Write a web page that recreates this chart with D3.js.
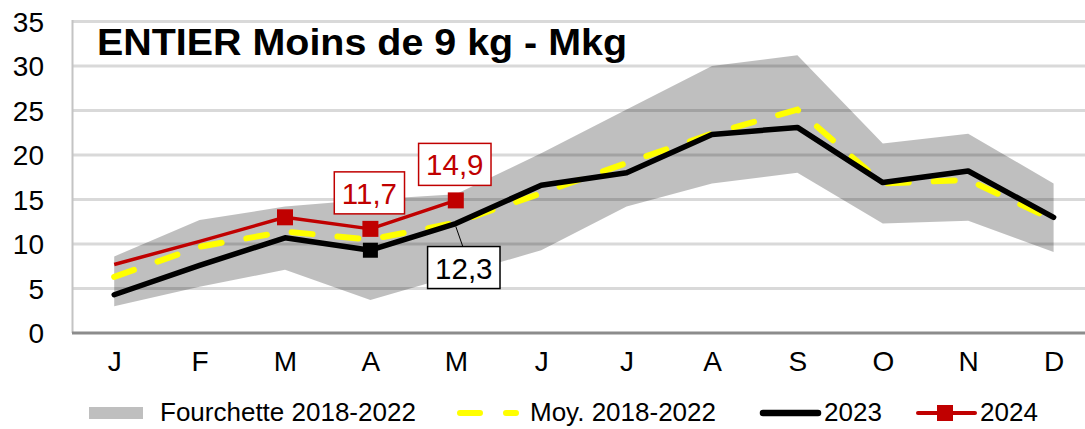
<!DOCTYPE html>
<html><head><meta charset="utf-8">
<script src="https://cdn.jsdelivr.net/npm/d3@7"></script>
<style>
html,body{margin:0;padding:0;background:#fff;}
svg{display:block;font-family:"Liberation Sans",Arial,sans-serif;}
</style></head>
<body>
<svg id="chart" width="1085" height="429"></svg>
<script>
// ---------- DATA ----------
const months = ["J","F","M","A","M","J","J","A","S","O","N","D"];
const yTicks = [0,5,10,15,20,25,30,35];
const rangeLow  = [3.0, 5.2, 7.1, 3.7, 6.5, 9.3, 14.2, 16.8, 18.0, 12.3, 12.6, 9.1];
const rangeHigh = [8.6, 12.7, 14.2, 15.0, 15.6, 20.2, 25.1, 30.0, 31.2, 21.3, 22.4, 16.8];
const avg1822   = [6.3, 9.7, 11.4, 10.5, 12.4, 15.7, 19.1, 22.4, 25.1, 16.8, 17.2, 12.7];
const s2023     = [4.3, 7.6, 10.7, 9.3, 12.3, 16.6, 18.0, 22.3, 23.1, 16.9, 18.2, 13.0];
const s2024     = [7.7, 10.3, 13.0, 11.7, 14.9];
const markers2023 = [3];          // indices with a square marker
const markers2024 = [2, 3, 4];
const labels2024 = [3, 4];        // indices with a value label
const labels2023 = [4];
const title = "ENTIER Moins de 9 kg - Mkg";
const legendNames = ["Fourchette 2018-2022", "Moy. 2018-2022", "2023", "2024"];

// ---------- SETUP ----------
const svg = d3.select("#chart");
const RED = "#c00000", YEL = "#ffff00", BAND = "rgba(0,0,0,0.25)";
const fmt = v => String(v.toFixed(1)).replace(".", ",");

const x = d3.scalePoint().domain(d3.range(months.length)).range([71.5, 1096.3]).padding(0.5);
const y = d3.scaleLinear().domain([0, 35]).range([333, 21.5]);

// gridlines
svg.append("g").selectAll("line").data(yTicks.filter(t => t > 0)).join("line")
  .attr("x1", 73).attr("x2", 1085)
  .attr("y1", d => y(d)).attr("y2", d => y(d))
  .attr("stroke", "#d9d9d9").attr("stroke-width", 3);

// left axis line
svg.append("line").attr("x1", 72.5).attr("x2", 72.5).attr("y1", y(35) - 1.5).attr("y2", y(0))
  .attr("stroke", "#c4c4c4").attr("stroke-width", 2);

// y tick labels
const yAxis = d3.axisLeft(y).tickValues(yTicks).tickSize(0).tickPadding(0);
const gy = svg.append("g").attr("transform", "translate(44,0)").call(yAxis);
gy.select(".domain").remove();
gy.selectAll("text").attr("font-size", 28).attr("fill", "#000")
  .attr("font-family", "'Liberation Sans',Arial,sans-serif").attr("dy", "0.35em");

// x tick labels
const xAxis = d3.axisBottom(x).tickFormat(i => months[i]).tickSize(0).tickPadding(0);
const gx = svg.append("g").attr("transform", "translate(0,351)").call(xAxis);
gx.select(".domain").remove();
gx.selectAll("text").attr("font-size", 28).attr("fill", "#000")
  .attr("font-family", "'Liberation Sans',Arial,sans-serif").attr("dy", "0.71em");

// band
const area = d3.area().x((d, i) => x(i)).y0((d, i) => y(rangeLow[i])).y1(d => y(d));
svg.append("path").datum(rangeHigh).attr("d", area).attr("fill", BAND);

// bottom axis line
svg.append("line").attr("x1", 72).attr("x2", 1085).attr("y1", y(0)).attr("y2", y(0))
  .attr("stroke", "#8c8c8c").attr("stroke-width", 3);

const line = d3.line().x((d, i) => x(i)).y(d => y(d));

// average dashed
svg.append("path").datum(avg1822).attr("d", line).attr("fill", "none")
  .attr("stroke", YEL).attr("stroke-width", 6).attr("stroke-dasharray", "21 25")
  .attr("stroke-linecap", "round");

// 2023
svg.append("path").datum(s2023).attr("d", line).attr("fill", "none")
  .attr("stroke", "#000").attr("stroke-width", 5.5)
  .attr("stroke-linejoin", "round").attr("stroke-linecap", "round");

// 2024
svg.append("path").datum(s2024).attr("d", line).attr("fill", "none")
  .attr("stroke", RED).attr("stroke-width", 3.5).attr("stroke-linejoin", "round");

// markers
svg.append("g").selectAll("rect").data(markers2023).join("rect")
  .attr("x", i => x(i) - 7.5).attr("y", i => y(s2023[i]) - 7.5)
  .attr("width", 15).attr("height", 15).attr("fill", "#000");
svg.append("g").selectAll("rect").data(markers2024).join("rect")
  .attr("x", i => x(i) - 8).attr("y", i => y(s2024[i]) - 8)
  .attr("width", 16).attr("height", 16).attr("fill", RED);

// value labels
function boxLabel(cx, cy, text, color) {
  const g = svg.append("g");
  const r = g.append("rect");
  const t = g.append("text").attr("x", cx).attr("y", cy + 11).attr("text-anchor", "middle")
    .attr("font-size", 29.5).attr("fill", color).text(text);
  const w = t.node().getComputedTextLength() + 15;
  const h = 42;
  r.attr("x", cx - w / 2).attr("y", cy - h / 2).attr("width", w).attr("height", h)
    .attr("fill", "#fff").attr("stroke", color).attr("stroke-width", 1.5);
}
labels2023.forEach(i => {
  const px = x(i), py = y(s2023[i]);
  svg.append("line").attr("x1", px).attr("y1", py + 3).attr("x2", px + 7).attr("y2", py + 23)
    .attr("stroke", "#000").attr("stroke-width", 1);
  boxLabel(px + 8, py + 44, fmt(s2023[i]), "#000");
});
labels2024.forEach(i => {
  boxLabel(x(i) - 1, y(s2024[i]) - 36, fmt(s2024[i]), RED);
});

// title
svg.append("text").attr("x", 97).attr("y", 55).attr("font-size", 37).attr("font-weight", "bold")
  .attr("textLength", 530).attr("lengthAdjust", "spacingAndGlyphs").attr("fill", "#000").text(title);

// legend
const lg = svg.append("g").attr("font-size", 26).attr("fill", "#000");
const ly = 413, lbase = 421;
lg.append("rect").attr("x", 89).attr("y", 407).attr("width", 54).attr("height", 12).attr("fill", "#bfbfbf");
lg.append("text").attr("x", 160).attr("y", lbase).text(legendNames[0]);
lg.append("line").attr("x1", 460).attr("x2", 516).attr("y1", ly).attr("y2", ly)
  .attr("stroke", YEL).attr("stroke-width", 6).attr("stroke-dasharray", "20 26").attr("stroke-linecap", "round");
lg.append("text").attr("x", 530).attr("y", lbase).text(legendNames[1]);
lg.append("line").attr("x1", 763).attr("x2", 818).attr("y1", ly).attr("y2", ly)
  .attr("stroke", "#000").attr("stroke-width", 6.5).attr("stroke-linecap", "round");
lg.append("text").attr("x", 824).attr("y", lbase).text(legendNames[2]);
lg.append("line").attr("x1", 918).attr("x2", 975).attr("y1", ly).attr("y2", ly)
  .attr("stroke", RED).attr("stroke-width", 4).attr("stroke-linecap", "round");
lg.append("rect").attr("x", 937).attr("y", ly - 8).attr("width", 16).attr("height", 16).attr("fill", RED);
lg.append("text").attr("x", 980).attr("y", lbase).text(legendNames[3]);
</script>
</body></html>
